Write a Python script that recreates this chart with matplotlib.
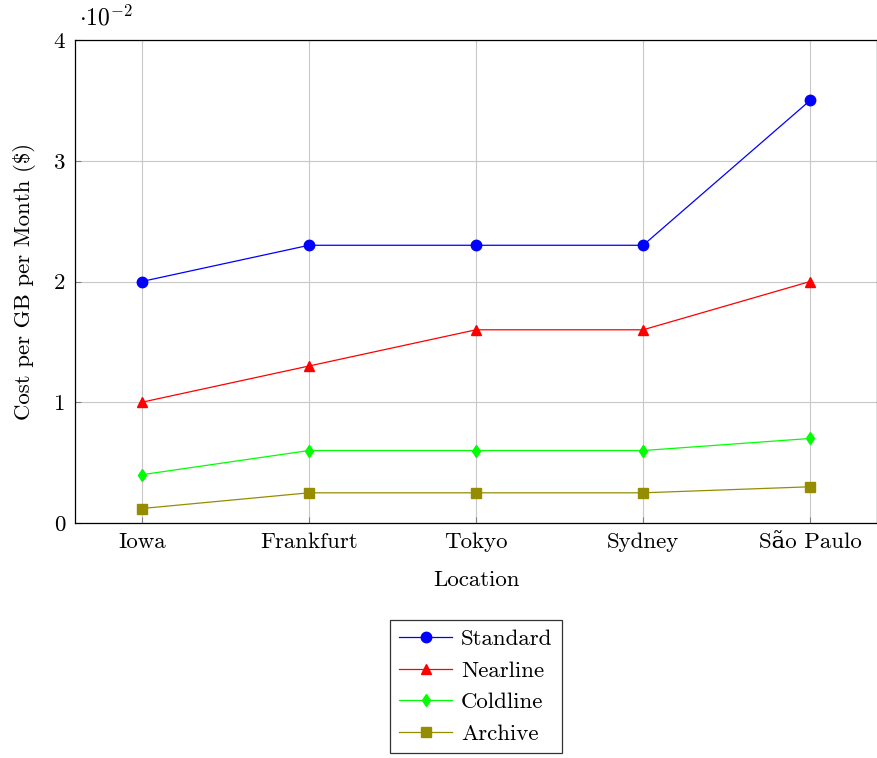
import numpy as np
import matplotlib.pyplot as plt
from matplotlib.ticker import FuncFormatter

locations = ['Iowa', 'Frankfurt', 'Tokyo', 'Sydney', 'São Paulo']
standard = [0.020, 0.023, 0.023, 0.023, 0.035]
nearline = [0.010, 0.013, 0.016, 0.016, 0.020]
coldline = [0.004, 0.006, 0.006, 0.006, 0.007]
archive = [0.0012, 0.0025, 0.0025, 0.0025, 0.003]

plt.rcParams['font.family'] = ['cmr10', 'DejaVu Serif']
plt.rcParams['mathtext.fontset'] = 'cm'
plt.rcParams['axes.unicode_minus'] = False

fig = plt.figure(figsize=(8.78, 7.58), dpi=100)
ax = fig.add_axes([75/878, 1 - 523/758, 802/878, 483/758])

x = np.arange(len(locations))
ax.plot(x, standard, color='blue', marker='o', markersize=7.5, lw=0.9, label='Standard')
ax.plot(x, nearline, color='red', marker='^', markersize=6.5, lw=0.9, label='Nearline')
ax.plot(x, coldline, color='#00ff00', marker='d', markersize=6.5, lw=0.9, label='Coldline')
ax.plot(x, archive, color='#968c00', marker='s', markersize=7, lw=0.9, label='Archive')

ax.set_xlim(-0.4, 4.4)
ax.set_ylim(0, 0.04)
ax.set_xticks(x)
ax.set_xticklabels(locations)
ax.set_yticks([0, 0.01, 0.02, 0.03, 0.04])
ax.yaxis.set_major_formatter(FuncFormatter(lambda v, p: '%d' % round(v * 100)))
ax.grid(True, color='#c8c8c8', lw=0.8)
ax.set_axisbelow(True)
ax.tick_params(direction='in', length=4, labelsize=16.5, colors='#808080', labelcolor='black', pad=7)
for s in ax.spines.values():
    s.set_linewidth(0.9)

ax.text(0.005, 1.02, r'$\cdot10^{-2}$', transform=ax.transAxes, fontsize=17, ha='left', va='bottom')
ax.set_xlabel('Location', fontsize=16.5, labelpad=13)
ax.set_ylabel('Cost per GB per Month (\\$)', fontsize=16.5, labelpad=13)

leg = fig.legend(loc='upper center', bbox_to_anchor=(476/878, 1 - 620/758), fontsize=16.5,
                 frameon=True, fancybox=False, edgecolor='black', handlelength=2.3,
                 borderpad=0.4, labelspacing=0.5, handletextpad=0.4, borderaxespad=0)
leg.get_frame().set_linewidth(0.9)

fig.savefig('out.png', dpi=100)
